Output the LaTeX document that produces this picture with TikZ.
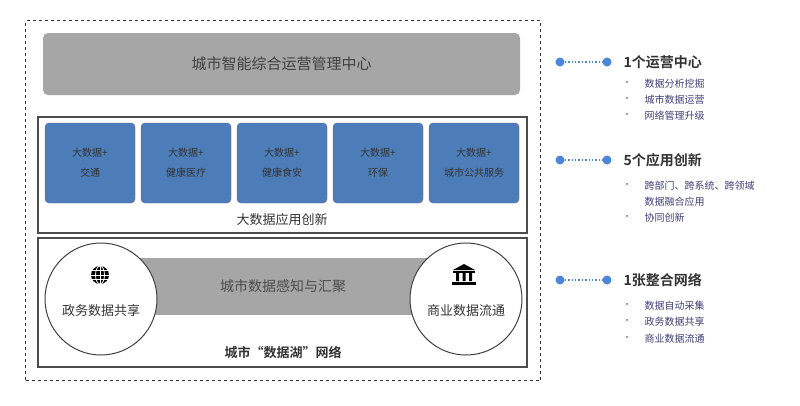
\documentclass[tikz,border=0pt]{standalone}
\usepackage{fontspec}
\setmainfont{Noto Sans CJK SC}
\newfontfamily\cjkb{Noto Sans CJK SC Bold}
\begin{document}
\begin{tikzpicture}[x=1pt,y=-1pt,
  bluebox/.style={draw=blue!40!black!60,fill=blue!55!cyan!60!black!70,rounded corners=4pt,minimum width=90pt,minimum height=80pt,align=center,font=\fontsize{10}{20}\selectfont,text=black!80},
  frame/.style={draw=black!70,line width=1.6pt},
  circ/.style={circle,draw=black!75,line width=1pt,fill=white,minimum size=112pt},
  dotline/.style={draw=blue!60!cyan!80!black!70,line width=1.4pt,dotted},
  bigdot/.style={circle,fill=blue!60!cyan!80!black!70,inner sep=0pt,minimum size=9pt},
  hd/.style={anchor=west,font=\cjkb\fontsize{14}{16}\selectfont,text=black!80},
  it/.style={anchor=west,font=\fontsize{10}{14}\selectfont,text=blue!30!black!75,align=left},
  bl/.style={font=\fontsize{8}{10}\selectfont,text=blue!30!black!75}]
\useasboundingbox (0,0) rectangle (800,405);
\fill[white] (0,0) rectangle (800,405);
\node[draw=black!80,dashed,line width=1.1pt,minimum width=515pt,minimum height=360pt,anchor=north west] (outer) at (25,20) {};
\node[fill=black!35,rounded corners=5pt,minimum width=477pt,minimum height=62pt,font=\fontsize{15}{18}\selectfont,text=black!75] (top) at (281.5,64) {城市智能综合运营管理中心};
\node[frame,minimum width=489pt,minimum height=116pt] (mid) at (282.5,175) {};
\foreach \i/\a/\b in {0/交通,1/健康医疗,2/健康食安,3/环保,4/城市公共服务}
  \node[bluebox] (b\i) at (90+96*\i,163) {大数据+\\\b};
\node[font=\fontsize{13}{15}\selectfont,text=black!80] (midlab) at (282,220) {大数据应用创新};
\node[frame,minimum width=489pt,minimum height=129pt] (bot) at (282.5,302.5) {};
\node[fill=black!35,minimum width=300pt,minimum height=57pt,font=\fontsize{14}{16}\selectfont,text=black!70] (band) at (283,286) {城市数据感知与汇聚};
\node[circ] (lc) at (101,299) {};
\node[circ] (rc) at (466,299) {};
\node[font=\fontsize{13}{15}\selectfont,text=black!80] (lct) at (101,311) {政务数据共享};
\node[font=\fontsize{13}{15}\selectfont,text=black!80] (rct) at (466,311) {商业数据流通};
% globe
\begin{scope}[shift={(100,275)},line width=0.9pt]
\fill[black] (0,0) circle (9);
\draw[white,line width=0.8pt] (0,-9)--(0,9) (-9,0)--(9,0) (-8,-4.5)--(8,-4.5) (-8,4.5)--(8,4.5);
\draw[white,line width=0.8pt] (0,-9) arc[start angle=-90,end angle=90,x radius=4.5,y radius=9];
\draw[white,line width=0.8pt] (0,-9) arc[start angle=-90,end angle=-270,x radius=4.5,y radius=9];
\end{scope}
% bank
\begin{scope}[shift={(464,275)}]
\fill[black] (-11,-5)--(0,-11)--(11,-5)--cycle;
\fill[black] (-11,-4) rectangle (11,-2.5);
\fill[black] (-8,-2) rectangle (-5,6) (-1.5,-2) rectangle (1.5,6) (5,-2) rectangle (8,6);
\fill[black] (-12,7) rectangle (12,10);
\end{scope}
\node[font=\cjkb\fontsize{13}{15}\selectfont,text=black!80] (botlab) at (283,352) {城市“数据湖”网络};
% right side
\foreach \k/\y in {a/62,b/160,c/280}{
  \node[bigdot] (l\k) at (560,\y) {};
  \node[bigdot] (r\k) at (607,\y) {};
  \draw[dotline] (l\k) -- (r\k);
}
\node[hd] (ha) at (620,62) {1个运营中心};
\node[hd] (hb) at (620,160) {5个应用创新};
\node[hd] (hc) at (620,280) {1张整合网络};
\foreach \y/\t in {84/数据分析挖掘,100/城市数据运营,116/网络管理升级,186/{跨部门、跨系统、跨领域},202/数据融合应用,218/协同创新,306/数据自动采集,322/政务数据共享,339/商业数据流通}
  \node[it] at (641,\y) {\t};
\foreach \y in {84,100,116,186,218,306,322,339}
  \node[bl] at (627,\y) {•};
\end{tikzpicture}
\end{document}
